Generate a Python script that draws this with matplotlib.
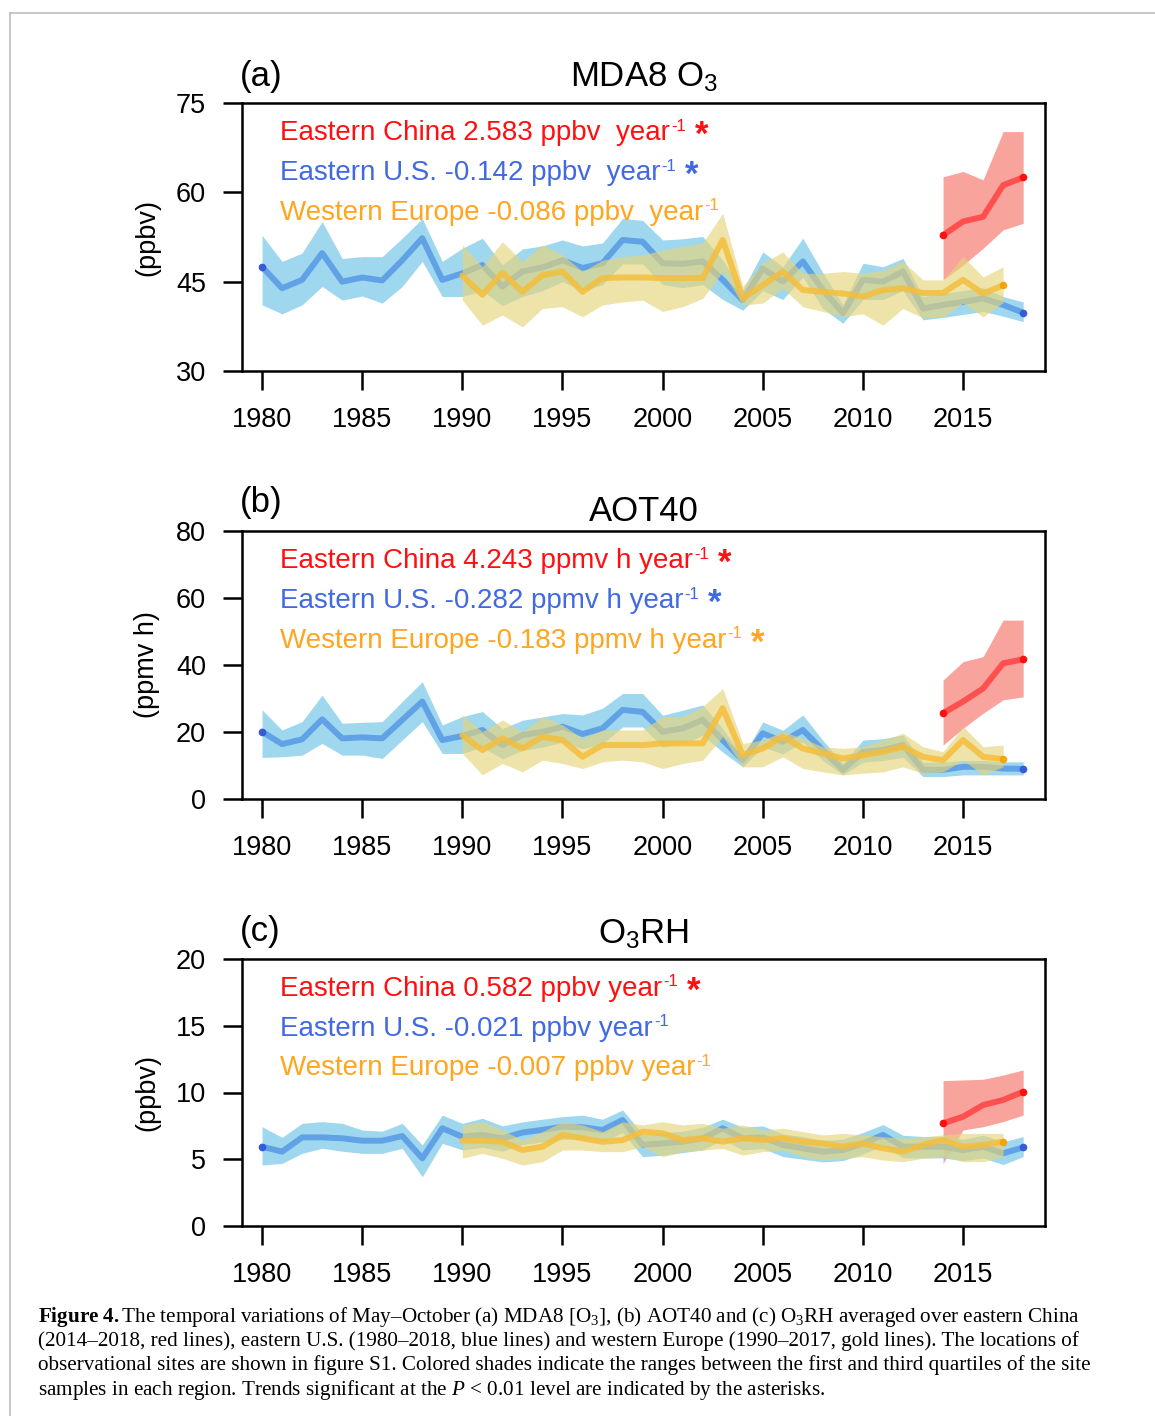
import matplotlib
matplotlib.use('Agg')
import matplotlib.pyplot as plt
from matplotlib.lines import Line2D

plt.rcParams['font.family'] = ['Liberation Sans', 'DejaVu Sans']
plt.rcParams['mathtext.fontset'] = 'custom'
plt.rcParams['mathtext.rm'] = 'Liberation Serif'
plt.rcParams['mathtext.it'] = 'Liberation Serif:italic'
plt.rcParams['mathtext.bf'] = 'Liberation Serif:bold'
plt.rcParams['mathtext.default'] = 'regular'

# ---------------- data ----------------
years_us = list(range(1980, 2019))
years_eu = list(range(1990, 2018))
years_cn = list(range(2014, 2019))

# (a) MDA8 O3 (ppbv)
us_a = [47.5, 43.9, 45.3, 49.8, 45.0, 45.7, 45.2, 48.6, 52.3, 45.3,
        46.4, 47.8, 44.2, 46.7, 47.4, 48.6, 47.3, 48.1, 52.0, 51.7,
        48.1, 48.0, 48.4, 45.3, 41.9, 47.2, 45.0, 48.4, 43.6, 39.7,
        45.3, 45.0, 46.7, 40.5, 41.1, 41.6, 42.2, 41.1, 39.8]
us_a_hi = [52.8, 48.4, 49.8, 55.1, 48.9, 49.2, 49.2, 52.3, 55.6, 48.4,
           50.6, 52.3, 47.8, 50.5, 51.0, 52.0, 51.0, 51.5, 55.6, 55.3,
           52.0, 52.2, 52.6, 48.6, 43.6, 50.0, 47.5, 52.3, 46.5, 41.1,
           48.1, 47.5, 48.9, 42.5, 43.0, 43.5, 44.0, 42.5, 41.6]
us_a_lo = [41.1, 39.6, 41.1, 44.2, 41.9, 42.6, 41.4, 44.2, 48.4, 42.5,
           42.5, 43.5, 41.0, 42.5, 43.5, 45.0, 43.5, 44.5, 48.0, 48.0,
           44.5, 44.0, 44.5, 42.0, 40.2, 43.5, 42.0, 45.8, 40.5, 38.0,
           42.0, 42.0, 43.5, 38.6, 39.0, 39.5, 40.0, 39.2, 38.3]
eu_a = [46.0, 42.8, 46.5, 43.3, 46.1, 46.7, 43.3, 45.6, 45.7, 45.7,
        45.6, 45.6, 45.6, 52.0, 42.2, 44.4, 46.7, 43.6, 43.3, 43.0,
        42.5, 43.6, 43.9, 43.1, 43.1, 45.3, 43.0, 44.4]
eu_a_hi = [51.2, 47.5, 51.7, 48.4, 51.2, 49.5, 46.7, 48.6, 49.2, 49.5,
           50.3, 50.9, 51.5, 56.5, 44.2, 48.1, 50.0, 46.4, 46.4, 46.7,
           46.4, 46.9, 48.4, 45.3, 45.3, 49.2, 45.8, 47.5]
eu_a_lo = [41.9, 37.7, 39.4, 37.4, 40.5, 40.8, 39.1, 41.1, 41.6, 41.9,
           40.0, 40.8, 42.2, 46.7, 41.1, 41.4, 43.9, 40.8, 40.0, 39.1,
           39.6, 37.7, 40.5, 38.9, 39.1, 41.4, 39.1, 41.5]
cn_a = [52.8, 55.1, 55.9, 61.2, 62.5]
cn_a_hi = [62.6, 63.5, 62.1, 70.2, 70.2]
cn_a_lo = [45.3, 47.8, 50.6, 53.7, 54.8]

# (b) AOT40 (ppmv h)
us_b = [20.1, 16.4, 17.8, 23.8, 18.1, 18.4, 18.1, 23.6, 29.1, 17.6,
        18.8, 20.6, 16.1, 19.1, 20.0, 21.6, 19.4, 21.1, 26.6, 26.0,
        20.1, 21.1, 23.6, 17.6, 11.6, 19.6, 17.1, 20.6, 14.6, 8.7,
        14.1, 14.6, 16.1, 8.7, 8.7, 9.6, 9.6, 9.1, 9.0]
us_b_hi = [26.6, 20.6, 23.1, 31.0, 22.6, 22.9, 23.1, 29.1, 35.0, 22.1,
           24.6, 26.1, 21.0, 23.5, 24.5, 25.5, 25.1, 27.1, 31.5, 31.5,
           25.0, 26.5, 28.1, 21.0, 12.6, 23.0, 20.5, 25.1, 17.5, 10.6,
           17.6, 18.0, 19.1, 11.0, 11.0, 11.5, 11.5, 11.1, 11.1]
us_b_lo = [12.4, 12.6, 13.1, 16.6, 13.1, 13.1, 12.1, 17.6, 23.1, 13.6,
           13.6, 15.5, 12.0, 14.5, 15.5, 17.0, 15.0, 16.5, 21.5, 21.5,
           15.5, 16.5, 19.0, 14.0, 9.6, 15.5, 13.5, 17.0, 11.5, 7.2,
           11.0, 11.5, 12.5, 6.7, 6.7, 7.2, 7.2, 7.2, 7.2]
eu_b = [19.0, 14.6, 18.1, 15.1, 18.6, 17.6, 12.6, 16.1, 16.1, 16.1,
        16.6, 16.6, 16.6, 27.1, 13.1, 15.1, 18.6, 15.1, 13.6, 12.1,
        13.1, 14.1, 15.6, 12.6, 11.6, 17.6, 12.6, 11.9]
eu_b_hi = [25.1, 20.1, 23.6, 20.1, 24.6, 22.1, 18.1, 20.6, 20.6, 20.6,
           24.6, 24.6, 27.6, 33.0, 16.6, 17.6, 20.1, 18.1, 15.6, 15.1,
           15.6, 17.6, 19.6, 15.6, 14.1, 21.6, 15.6, 16.1]
eu_b_lo = [13.6, 7.2, 10.6, 8.1, 11.6, 10.6, 9.1, 11.1, 11.6, 11.1,
           9.1, 10.6, 11.6, 18.6, 9.6, 9.6, 12.6, 9.1, 8.1, 7.2,
           7.7, 8.1, 9.6, 7.7, 8.1, 11.6, 7.2, 9.6]
cn_b = [25.6, 29.1, 33.0, 40.5, 41.7]
cn_b_hi = [35.5, 41.0, 42.5, 53.4, 53.4]
cn_b_lo = [16.1, 21.1, 25.6, 29.6, 30.5]

# (c) O3RH (ppbv)
us_c = [5.94, 5.57, 6.64, 6.64, 6.57, 6.39, 6.39, 6.74, 5.07, 7.32,
        6.69, 6.82, 6.57, 7.00, 7.20, 7.44, 7.40, 7.19, 7.94, 6.07,
        6.19, 6.32, 6.57, 7.32, 6.57, 6.64, 6.07, 5.82, 5.57, 5.69,
        6.19, 6.82, 5.94, 5.94, 5.94, 5.69, 5.94, 5.44, 5.89]
us_c_hi = [7.44, 6.64, 7.69, 7.82, 7.69, 7.19, 7.10, 7.69, 6.07, 8.31,
           7.69, 8.07, 7.50, 7.80, 8.00, 8.19, 8.30, 8.00, 8.69, 6.90,
           7.00, 7.10, 7.40, 8.00, 7.40, 7.50, 6.90, 6.70, 6.40, 6.50,
           7.00, 7.60, 6.80, 6.70, 6.70, 6.50, 6.80, 6.30, 6.70]
us_c_lo = [4.57, 4.69, 5.44, 5.82, 5.60, 5.44, 5.44, 5.82, 3.69, 6.19,
           5.70, 5.90, 5.60, 6.10, 6.30, 6.50, 6.50, 6.30, 7.00, 5.19,
           5.30, 5.50, 5.70, 6.50, 5.70, 5.80, 5.20, 5.00, 4.80, 4.90,
           5.40, 6.00, 5.10, 5.10, 5.10, 4.90, 5.10, 4.60, 5.20]
eu_c = [6.40, 6.40, 6.30, 5.69, 5.94, 6.82, 6.57, 6.30, 6.44, 7.07,
        6.94, 6.44, 6.57, 6.32, 6.57, 6.44, 6.57, 6.32, 6.19, 5.94,
        6.19, 5.82, 5.57, 6.07, 6.44, 5.94, 6.07, 6.32]
eu_c_hi = [7.57, 7.81, 7.19, 6.44, 7.07, 7.81, 7.57, 7.07, 7.81, 7.57,
           7.81, 7.57, 7.69, 7.32, 7.57, 7.19, 7.32, 7.07, 6.82, 6.94,
           6.82, 6.69, 6.57, 6.69, 6.82, 6.94, 6.94, 6.94]
eu_c_lo = [5.07, 5.44, 5.07, 4.57, 4.82, 5.69, 5.69, 5.57, 5.57, 5.94,
           5.19, 5.57, 5.69, 5.82, 5.31, 5.57, 5.69, 5.19, 4.94, 5.07,
           5.19, 4.94, 4.82, 5.07, 5.19, 4.82, 4.82, 5.19]
cn_c = [7.69, 8.19, 9.06, 9.44, 10.06]
cn_c_hi = [10.89, 10.94, 10.99, 11.31, 11.69]
cn_c_lo = [4.69, 7.19, 7.44, 7.82, 8.31]

xticks = [1980, 1985, 1990, 1995, 2000, 2005, 2010, 2015]
panel_labels = ['(a)', '(b)', '(c)']
panel_titles = ['MDA8 O$_3$', 'AOT40', 'O$_3$RH']
panel_units = ['(ppbv)', '(ppmv h)', '(ppbv)']
yticks_a = [30, 45, 60, 75]
yticks_b = [0, 20, 40, 60, 80]
yticks_c = [0, 5, 10, 15, 20]
trend_text_a = ['Eastern China 2.583 ppbv  year',
                'Eastern U.S. -0.142 ppbv  year',
                'Western Europe -0.086 ppbv  year']
trend_text_b = ['Eastern China 4.243 ppmv h year',
                'Eastern U.S. -0.282 ppmv h year',
                'Western Europe -0.183 ppmv h year']
trend_text_c = ['Eastern China 0.582 ppbv year',
                'Eastern U.S. -0.021 ppbv year',
                'Western Europe -0.007 ppbv year']
unit_exponent = '-1'
signif_a = [True, True, False]
signif_b = [True, True, True]
signif_c = [True, False, False]

caption_lines = [
    r"$\mathbf{Figure\ 4.}$The temporal variations of May–October (a) MDA8 [O$_3$], (b) AOT40 and (c) O$_3$RH averaged over eastern China",
    "(2014–2018, red lines), eastern U.S. (1980–2018, blue lines) and western Europe (1990–2017, gold lines). The locations of",
    "observational sites are shown in figure S1. Colored shades indicate the ranges between the first and third quartiles of the site",
    r"samples in each region. Trends significant at the $\mathit{P}$ < 0.01 level are indicated by the asterisks.",
]

# ---------------- style ----------------
W, H = 1155, 1416
BLUE_BAND, BLUE_LINE, BLUE_DOT, BLUE_TXT = '#87CEEB', '#5E9FE6', '#3458D8', '#4169E1'
GOLD_BAND, GOLD_LINE, GOLD_DOT, GOLD_TXT = '#E6D47A', '#F5BE3C', '#F5A000', '#FFA51E'
RED_BAND, RED_LINE, RED_DOT, RED_TXT = '#F89A92', '#FF5050', '#FF1010', '#FF1010'
txt_colors = [RED_TXT, BLUE_TXT, GOLD_TXT]

fig = plt.figure(figsize=(W / 100, H / 100), dpi=100)


def px_rect(l, t, r, b):
    return [l / W, 1 - b / H, (r - l) / W, (b - t) / H]


panels = [
    dict(rect=(242, 103, 1045, 371), ylim=(30, 75), yticks=yticks_a,
         us=(us_a, us_a_lo, us_a_hi), eu=(eu_a, eu_a_lo, eu_a_hi), cn=(cn_a, cn_a_lo, cn_a_hi),
         texts=trend_text_a, sig=signif_a, lab_off=17, tit_off=17),
    dict(rect=(242, 531, 1045, 799), ylim=(0, 80), yticks=yticks_b,
         us=(us_b, us_b_lo, us_b_hi), eu=(eu_b, eu_b_lo, eu_b_hi), cn=(cn_b, cn_b_lo, cn_b_hi),
         texts=trend_text_b, sig=signif_b, lab_off=19, tit_off=10),
    dict(rect=(242, 959, 1045, 1226), ylim=(0, 20), yticks=yticks_c,
         us=(us_c, us_c_lo, us_c_hi), eu=(eu_c, eu_c_lo, eu_c_hi), cn=(cn_c, cn_c_lo, cn_c_hi),
         texts=trend_text_c, sig=signif_c, lab_off=18, tit_off=16),
]

for i, p in enumerate(panels):
    ax = fig.add_axes(px_rect(*p['rect']))
    hpx = p['rect'][3] - p['rect'][1]
    cn, cn_lo, cn_hi = p['cn']
    us, us_lo, us_hi = p['us']
    eu, eu_lo, eu_hi = p['eu']
    # red (eastern China)
    ax.fill_between(years_cn, cn_lo, cn_hi, color=RED_BAND, alpha=0.9, lw=0, zorder=1)
    ax.plot(years_cn, cn, color=RED_LINE, lw=4.3, solid_capstyle='round', zorder=2,
            marker='o', markevery=[0, len(cn) - 1], ms=4.5, mfc=RED_DOT, mec=RED_DOT)
    # blue (eastern US)
    ax.fill_between(years_us, us_lo, us_hi, color=BLUE_BAND, alpha=0.8, lw=0, zorder=3)
    ax.plot(years_us, us, color=BLUE_LINE, lw=4.3, alpha=0.95, solid_capstyle='round', zorder=4,
            marker='o', markevery=[0, len(us) - 1], ms=4.5, mfc=BLUE_DOT, mec=BLUE_DOT)
    # gold (western Europe)
    ax.fill_between(years_eu, eu_lo, eu_hi, color=GOLD_BAND, alpha=0.65, lw=0, zorder=5)
    ax.plot(years_eu, eu, color=GOLD_LINE, lw=4.3, alpha=0.85, solid_capstyle='round', zorder=6,
            marker='o', markevery=[len(eu) - 1], ms=4.5, mfc=GOLD_DOT, mec=GOLD_DOT)

    ax.set_xlim(1979.0, 2019.09)
    ax.set_ylim(*p['ylim'])
    ax.set_xticks(xticks)
    ax.set_yticks(p['yticks'])
    ax.tick_params(axis='both', direction='out', length=14, width=1.8,
                   labelsize=19.5, top=False, right=False)
    ax.tick_params(axis='x', pad=12)
    ax.tick_params(axis='y', pad=12)
    for s in ax.spines.values():
        s.set_linewidth(1.8)

    # panel label, title, unit
    ax.text(-0.003, 1 + p['lab_off'] / hpx, panel_labels[i], transform=ax.transAxes,
            ha='left', va='baseline', fontsize=25)
    ax.text(0.5, 1 + p['tit_off'] / hpx, panel_titles[i], transform=ax.transAxes,
            ha='center', va='baseline', fontsize=25)
    ax.text(-0.1183, 0.5, panel_units[i], transform=ax.transAxes, rotation=90,
            ha='center', va='center', fontsize=19.5)

    # trend texts with superscript and significance asterisk
    ys = [0.862, 0.713, 0.565]
    for k in range(3):
        t = ax.text(0.047, ys[k], p['texts'][k], transform=ax.transAxes, ha='left',
                    va='baseline', fontsize=20, color=txt_colors[k], zorder=10)
        sup = ax.annotate(unit_exponent, xy=(1, 0), xycoords=t, xytext=(1.0, 8.9),
                          textcoords='offset points', ha='left', va='bottom',
                          fontsize=12, color=txt_colors[k], zorder=10)
        if p['sig'][k]:
            ax.annotate('*', xy=(1, 0.5), xycoords=(sup, t), xytext=(6.5, -2),
                        textcoords='offset points', ha='left', va='center',
                        fontsize=25, fontweight='bold', color=txt_colors[k], zorder=10)

# caption
cap_y = [1321.7, 1346.0, 1370.3, 1394.6]
cap_texts = []
for k, line in enumerate(caption_lines):
    cap_texts.append(fig.text(38 / W, 1 - cap_y[k] / H, line, ha='left', va='baseline',
                              fontsize=14.5, family=['Liberation Serif', 'DejaVu Serif']))
fig.canvas.draw()
r = fig.canvas.get_renderer()
w3 = cap_texts[2].get_window_extent(r).width
fs = 14.5 * (1052.0 / w3)
for t in cap_texts:
    t.set_fontsize(fs)

# thin grey page border
fig.add_artist(Line2D([10 / W, 1], [1 - 13 / H, 1 - 13 / H], transform=fig.transFigure,
                      color='#BDBDBD', lw=1.2))
fig.add_artist(Line2D([10 / W, 10 / W], [0, 1 - 13 / H], transform=fig.transFigure,
                      color='#BDBDBD', lw=1.2))

fig.savefig('out.png', dpi=100)
